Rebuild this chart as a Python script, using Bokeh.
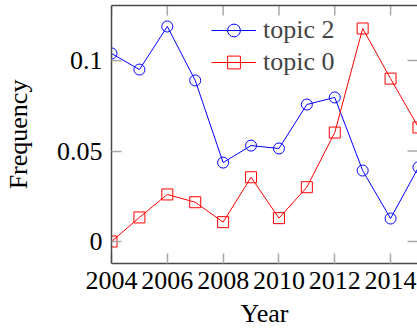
import math
from bokeh.plotting import figure
from bokeh.models import LinearAxis, FixedTicker, Range1d, Legend, LegendItem, ColumnDataSource
from bokeh.embed import file_html
from bokeh.resources import INLINE

years = [2004, 2005, 2006, 2007, 2008, 2009, 2010, 2011, 2012, 2013, 2014, 2015]
topic2 = [0.1039, 0.095, 0.1188, 0.089, 0.0436, 0.053, 0.0514, 0.0757, 0.0796, 0.0392, 0.0127, 0.041]
topic0 = [0.0, 0.0133, 0.026, 0.0217, 0.0107, 0.0355, 0.0129, 0.030, 0.0602, 0.1177, 0.090, 0.063]
xticks = [2004, 2006, 2008, 2010, 2012, 2014]
yticks = [0, 0.05, 0.1]
ytick_labels = ["0", "0.05", "0.1"]

X0, X1 = 2004, 2014.965
Y0, Y1 = -0.01215, 0.1304

src = ColumnDataSource(dict(year=years, t2=topic2, t0=topic0))

FONT = "Liberation Serif"
FS = "26px"
FRAME = "#4a4a4a"
TICK = "#a8a8a8"

p = figure(width=417, height=331, output_backend="svg", toolbar_location=None,
           x_range=Range1d(X0, X1), y_range=Range1d(Y0, Y1),
           min_border_left=108, min_border_right=0, min_border_top=5, min_border_bottom=68,
           x_axis_label="Year", y_axis_label="Frequency")
p.grid.visible = False
p.outline_line_color = None

def style(ax, ticks):
    ax.ticker = FixedTicker(ticks=ticks)
    ax.major_tick_in = 10
    ax.major_tick_out = 0
    ax.minor_tick_in = 0
    ax.minor_tick_out = 0
    ax.major_tick_line_color = TICK
    ax.major_tick_line_width = 1.5
    ax.axis_line_color = FRAME
    ax.axis_line_width = 1.5
    ax.major_label_text_font = FONT
    ax.major_label_text_font_size = FS
    ax.major_label_text_color = "black"
    ax.axis_label_text_font = FONT
    ax.axis_label_text_font_size = FS
    ax.axis_label_text_font_style = "normal"
    ax.axis_label_text_color = "black"

style(p.xaxis[0], xticks)
p.xaxis[0].major_label_standoff = 8
p.xaxis[0].axis_label_standoff = 7
style(p.yaxis[0], yticks)
p.yaxis[0].major_label_standoff = 9
p.yaxis[0].axis_label_standoff = 21
p.yaxis[0].major_label_overrides = {v: s for v, s in zip(yticks, ytick_labels)}

# top frame line (no ticks / labels)
top = LinearAxis(ticker=FixedTicker(ticks=[]))
top.axis_line_color = FRAME
top.axis_line_width = 1.5
top.major_tick_out = 0
top.major_tick_in = 0
top.minor_tick_out = 0
top.minor_tick_in = 0
top.major_label_standoff = 0
p.add_layout(top, "above")

# mirrored inner ticks on top and right (clipped to frame -> inward half shows)
p.scatter(x=xticks, y=[Y1] * len(xticks), marker="dash", angle=math.pi / 2, size=20,
          line_color=TICK, line_width=1.5)
p.scatter(x=[X1] * len(yticks), y=yticks, marker="dash", size=20,
          line_color=TICK, line_width=1.5)

l2 = p.line("year", "t2", source=src, line_color="#0000ff", line_width=1)
m2 = p.scatter("year", "t2", source=src, marker="circle", size=11,
               line_color="#0000ff", fill_color=None, line_width=1)
l0 = p.line("year", "t0", source=src, line_color="#ff0000", line_width=1)
m0 = p.scatter("year", "t0", source=src, marker="square", size=11,
               line_color="#ff0000", fill_color=None, line_width=1)

legend = Legend(items=[LegendItem(label="topic 2", renderers=[l2, m2]),
                       LegendItem(label="topic 0", renderers=[l0, m0])],
                location=(100, 185), orientation="vertical",
                glyph_width=45, glyph_height=32, label_height=32, spacing=-5,
                padding=0, margin=0, label_standoff=7,
                label_text_font=FONT, label_text_font_size=FS,
                border_line_alpha=0, background_fill_alpha=0)
p.add_layout(legend)

open("out.html", "w").write(file_html(p, INLINE))
